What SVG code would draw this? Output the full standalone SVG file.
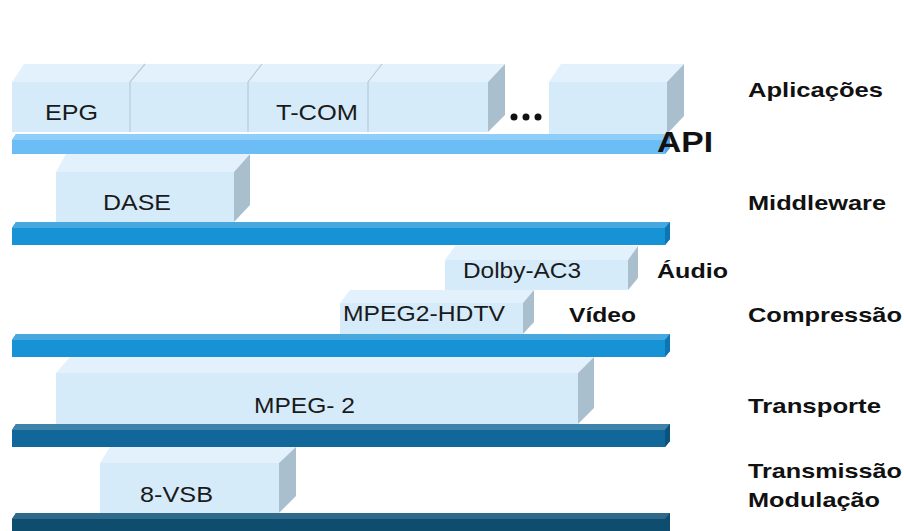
<svg xmlns="http://www.w3.org/2000/svg" width="904" height="531" viewBox="0 0 904 531">
<defs>
<style>
.front{fill:#D6EBFA}
.top{fill:#E3F1FC}
.side{fill:#AABFCE}
.div{stroke:#B9CAD6;stroke-width:1.2;fill:none}
.lbl{font-family:"Liberation Sans",Arial,sans-serif;font-size:22px;fill:#1a1a1a}
.lay{font-family:"Liberation Sans",Arial,sans-serif;font-size:21px;font-weight:bold;fill:#111}
</style>
</defs>
<rect width="904" height="531" fill="#ffffff"/>

<!-- Bars -->
<g id="bar-api">
<polygon points="12,140 16,134 670,134 670,148 665,154 12,154" fill="#6CBDF5"/>
<polygon points="12,140 16,134 670,134 665,140" fill="#8FCEF8"/>
<polygon points="665,140 670,134 670,148 665,154" fill="#4EA6E0"/>
</g>
<g id="bar-middleware">
<polygon points="12,228 16,222 670,222 670,239 665,245 12,245" fill="#1792D4"/>
<polygon points="12,228 16,222 670,222 665,228" fill="#45A8DE"/>
<polygon points="665,228 670,222 670,239 665,245" fill="#0D76B2"/>
</g>
<g id="bar-compressao">
<polygon points="12,340 16,334 670,334 670,351 665,357 12,357" fill="#1792D4"/>
<polygon points="12,340 16,334 670,334 665,340" fill="#45A8DE"/>
<polygon points="665,340 670,334 670,351 665,357" fill="#0D76B2"/>
</g>
<g id="bar-transporte">
<polygon points="12,430 16,424 670,424 670,441 665,447 12,447" fill="#11669A"/>
<polygon points="12,430 16,424 670,424 665,430" fill="#3E83AA"/>
<polygon points="665,430 670,424 670,441 665,447" fill="#0B527E"/>
</g>
<g id="bar-modulacao">
<polygon points="12,519 16,513 670,513 670,531 12,531" fill="#0E4D6E"/>
<polygon points="12,519 16,513 670,513 665,519" fill="#2F6A8A"/>
</g>

<!-- Application boxes -->
<g id="apps">
<polygon class="top" points="12,82 24,64 505,64 488,82"/>
<rect class="front" x="12" y="82" width="476" height="50"/>
<polygon class="side" points="488,82 505,64 505,115 488,132"/>
<path class="div" d="M130,82 L145,64 M130,82 V132 M248,82 L262,64 M248,82 V132 M368,82 L382,64 M368,82 V132"/>
<text class="lbl" x="45" y="120" textLength="53" lengthAdjust="spacingAndGlyphs">EPG</text>
<text class="lbl" x="276" y="120" textLength="82" lengthAdjust="spacingAndGlyphs">T-COM</text>
</g>
<g id="dots">
<circle cx="514" cy="117" r="3.5" fill="#111"/>
<circle cx="526" cy="117" r="3.5" fill="#111"/>
<circle cx="538" cy="117" r="3.5" fill="#111"/>
</g>
<g id="app-last">
<polygon class="top" points="549,82 561,64 684,64 667,82"/>
<rect class="front" x="549" y="82" width="118" height="52"/>
<polygon class="side" points="667,82 684,64 684,116 667,134"/>
</g>

<g id="dase">
<polygon class="top" points="56,172 66,154 250,154 234,172"/>
<rect class="front" x="56" y="172" width="178" height="50"/>
<polygon class="side" points="234,172 250,154 250,205 234,222"/>
<text class="lbl" x="103" y="210" textLength="68" lengthAdjust="spacingAndGlyphs">DASE</text>
</g>

<g id="dolby">
<polygon class="top" points="445,260 455,246 638,246 628,260"/>
<rect class="front" x="445" y="260" width="183" height="30"/>
<polygon class="side" points="628,260 638,246 638,278 628,290"/>
<text class="lbl" x="463" y="278" textLength="118" lengthAdjust="spacingAndGlyphs">Dolby-AC3</text>
</g>

<g id="hdtv">
<polygon class="top" points="340,303 350,290 534,290 523,303"/>
<rect class="front" x="340" y="303" width="183" height="31"/>
<polygon class="side" points="523,303 534,290 534,322 523,334"/>
<text class="lbl" x="343" y="321" textLength="162" lengthAdjust="spacingAndGlyphs">MPEG2-HDTV</text>
</g>

<g id="mpeg2">
<polygon class="top" points="56,373 70,357 594,357 578,373"/>
<rect class="front" x="56" y="373" width="522" height="51"/>
<polygon class="side" points="578,373 594,357 594,408 578,424"/>
<text class="lbl" x="254" y="413" textLength="101" lengthAdjust="spacingAndGlyphs">MPEG- 2</text>
</g>

<g id="vsb">
<polygon class="top" points="100,463 110,447 296,447 279,463"/>
<rect class="front" x="100" y="463" width="179" height="50"/>
<polygon class="side" points="279,463 296,447 296,496 279,513"/>
<text class="lbl" x="140" y="502" textLength="73" lengthAdjust="spacingAndGlyphs">8-VSB</text>
</g>

<g id="connectors"></g>

<g id="labels">
<text class="lay" x="657" y="152" style="font-size:30px" textLength="56" lengthAdjust="spacingAndGlyphs">API</text>
<text class="lay" x="657" y="278" textLength="71" lengthAdjust="spacingAndGlyphs">Áudio</text>
<text class="lay" x="569" y="322" textLength="67" lengthAdjust="spacingAndGlyphs">Vídeo</text>
<text class="lay" x="748" y="97" textLength="135" lengthAdjust="spacingAndGlyphs">Aplicações</text>
<text class="lay" x="748" y="210" textLength="138" lengthAdjust="spacingAndGlyphs">Middleware</text>
<text class="lay" x="748" y="322" textLength="154" lengthAdjust="spacingAndGlyphs">Compressão</text>
<text class="lay" x="748" y="413" textLength="133" lengthAdjust="spacingAndGlyphs">Transporte</text>
<text class="lay" x="748" y="478" textLength="154" lengthAdjust="spacingAndGlyphs">Transmissão</text>
<text class="lay" x="748" y="507" textLength="132" lengthAdjust="spacingAndGlyphs">Modulação</text>
</g>
</svg>
